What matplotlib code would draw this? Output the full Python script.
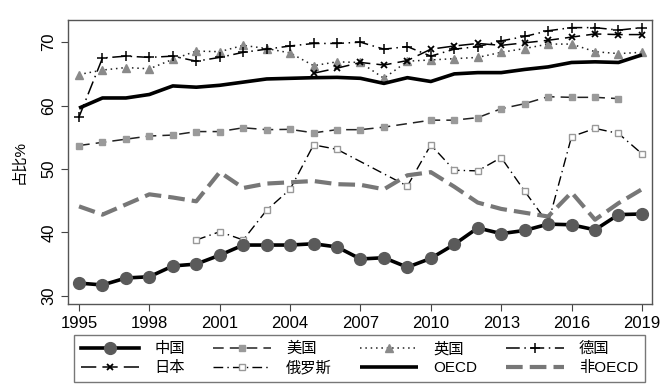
import numpy as np
import matplotlib
matplotlib.use("Agg")
import matplotlib.pyplot as plt

plt.rcParams['font.family'] = ['Liberation Sans', 'Noto Sans CJK SC', 'DejaVu Sans']

years = list(range(1995, 2020))
nan = np.nan

china = [32.0, 31.7, 32.8, 33.0, 34.7, 35.0, 36.4, 38.0, 38.0, 38.0, 38.2, 37.7,
         35.8, 36.0, 34.5, 35.9, 38.1, 40.7, 39.8, 40.3, 41.3, 41.2, 40.4, 42.8, 42.9]
usa = [53.7, 54.2, 54.7, 55.2, 55.35, 55.9, 55.9, 56.5, 56.2, 56.25, 55.7, 56.2,
       56.2, 56.6, nan, 57.7, 57.7, 58.1, 59.5, 60.3, 61.4, 61.3, 61.3, 61.1, nan]
uk = [64.9, 65.6, 66.0, 65.8, 67.3, 68.6, 68.5, 69.5, 69.0, 68.3, 66.3, 66.9,
      66.8, 64.3, 67.0, 67.2, 67.4, 67.6, 68.4, 69.0, 69.7, 69.7, 68.5, 68.2, 68.4]
germany = [58.2, 67.5, 67.8, 67.6, 67.8, 67.0, 67.6, 68.4, 68.9, 69.4, 69.8, 69.8,
           70.0, 68.9, 69.3, 67.8, 68.9, 69.3, 70.2, 70.9, 71.8, 72.3, 72.3, 71.9, 72.3]
japan = [nan, nan, nan, nan, nan, nan, nan, nan, nan, nan, 65.1, 65.9,
         66.8, 66.4, 67.1, 68.9, 69.4, 69.8, 69.5, 69.9, 70.3, 70.8, 71.3, 71.2, 71.2]
russia = [nan, nan, nan, nan, nan, 38.8, 40.1, 38.8, 43.5, 46.8, 53.8, 53.1,
          nan, nan, 47.3, 53.8, 49.8, 49.7, 51.8, 46.5, 41.4, 55.1, 56.4, 55.6, 52.4]
oecd = [59.6, 61.2, 61.2, 61.75, 63.1, 62.9, 63.2, 63.7, 64.2, 64.3, 64.4, 64.45,
        64.3, 63.5, 64.4, 63.8, 65.0, 65.2, 65.2, 65.7, 66.1, 66.8, 66.9, 66.8, 68.0]
non_oecd = [44.1, 42.8, 44.4, 46.0, 45.5, 44.9, 49.5, 47.0, 47.7, 47.9, 48.1, 47.6,
            47.5, 46.8, 49.0, 49.5, 47.2, 44.7, 43.7, 43.1, 42.5, 46.3, 42.0, 44.6, 46.8]

labels = ['中国', '美国', '英国', '德国', '日本', '俄罗斯', 'OECD', '非OECD']
xticks = [1995, 1998, 2001, 2004, 2007, 2010, 2013, 2016, 2019]
yticks = [30, 40, 50, 60, 70]


def clean(vals):
    # drop missing years, line still joins the remaining points
    x = np.array(years, dtype=float)
    y = np.array(vals, dtype=float)
    m = ~np.isnan(y)
    return x[m], y[m]


fig = plt.figure(figsize=(6.69, 3.89), dpi=100)
ax = fig.add_axes([68 / 669, 1 - 304 / 389, 584 / 669, 284 / 389])

h = {}
h['中国'], = ax.plot(*clean(china), color='black', lw=2.6, marker='o', ms=8.5,
                    mfc='#5a5a5a', mec='#5a5a5a', zorder=5)
h['美国'], = ax.plot(*clean(usa), color='#222222', lw=1.1, ls=(0, (7, 4)),
                    marker='s', ms=4.5, mfc='#9a9a9a', mec='#9a9a9a')
h['英国'], = ax.plot(*clean(uk), color='#222222', lw=1.1, ls=(0, (1, 2.5)),
                    marker='^', ms=6, mfc='#8a8a8a', mec='#8a8a8a')
h['德国'], = ax.plot(*clean(germany), color='black', lw=1.1, ls=(0, (9, 3, 1, 3)),
                    marker='+', ms=7, mew=1.1)
h['日本'], = ax.plot(*clean(japan), color='black', lw=1.1, ls=(0, (10, 4)),
                    marker='x', ms=4.5, mew=1.3)
h['俄罗斯'], = ax.plot(*clean(russia), color='black', lw=1.0, ls=(0, (7, 3, 1, 3)),
                     marker='s', ms=4, mfc='white', mec='#999999', mew=1.0)
h['OECD'], = ax.plot(*clean(oecd), color='black', lw=2.6, solid_capstyle='butt')
h['非OECD'], = ax.plot(*clean(non_oecd), color='#777777', lw=3.0, ls=(0, (4, 1.7)))

ax.set_xlim(1994.53, 2019.43)
ax.set_ylim(28.7, 73.5)
ax.set_xticks(xticks)
ax.set_xticklabels([str(t) for t in xticks], fontsize=12)
ax.set_yticks(yticks)
ax.set_yticklabels([str(t) for t in yticks], fontsize=12, rotation=90, va='center')
ax.tick_params(direction='out', length=5, width=0.8, color='#444444')
ax.set_ylabel('占比%', fontsize=11, labelpad=11)
for s in ax.spines.values():
    s.set_color('#555555')
    s.set_linewidth(1.0)

order = ['中国', '日本', '美国', '俄罗斯', '英国', 'OECD', '德国', '非OECD']
leg = fig.legend([h[k] for k in order], order, loc='upper left',
                 bbox_to_anchor=(74 / 669, 1 - 380 / 389, 571 / 669, 45 / 389),
                 mode='expand', ncol=4, fontsize=11, frameon=True, fancybox=False,
                 edgecolor='#555555', handlelength=3.8, handletextpad=1.0,
                 borderaxespad=0, labelspacing=0.3, borderpad=0.45, numpoints=1)
leg.get_frame().set_linewidth(1.0)

fig.savefig('out.png', dpi=100)
